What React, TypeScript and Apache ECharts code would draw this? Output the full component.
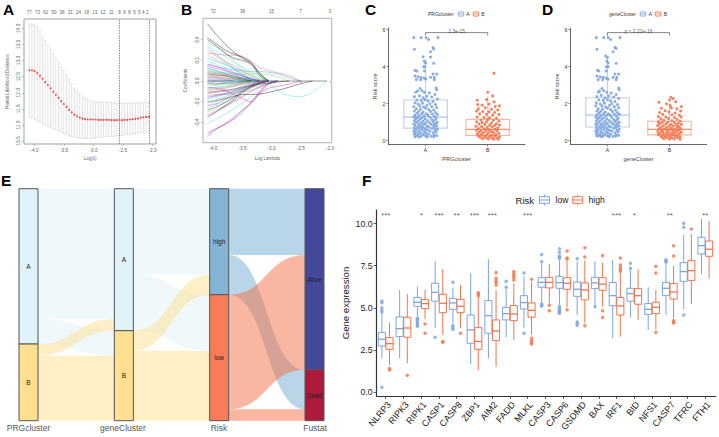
import React, { useEffect, useRef } from "react";
import * as echarts from "echarts";

const FONT = "Liberation Sans";
const BLUE = "#7BA5DE";
const ORANGE = "#F5734A";

// ---------- Panel A ----------
const aTopLabels = ["77","73","62","50","38","31","24","18","13","12","11","8","8","8","5","5","4","2"];
const aTopPos = [-4.092,-3.952,-3.813,-3.673,-3.536,-3.396,-3.257,-3.117,-2.978,-2.838,-2.699,-2.561,-2.476,-2.391,-2.306,-2.226,-2.158,-2.09];
const aLambda = [-4.09,-4.045,-4.0,-3.955,-3.91,-3.865,-3.82,-3.775,-3.73,-3.685,-3.64,-3.595,-3.55,-3.505,-3.46,-3.415,-3.37,-3.325,-3.28,-3.235,-3.19,-3.145,-3.1,-3.055,-3.01,-2.965,-2.92,-2.875,-2.83,-2.785,-2.74,-2.695,-2.65,-2.605,-2.56,-2.515,-2.47,-2.425,-2.38,-2.335,-2.29,-2.245,-2.2,-2.155,-2.11,-2.06];
const aMean = [12.70,12.70,12.67,12.61,12.53,12.44,12.33,12.24,12.14,12.03,11.94,11.84,11.74,11.65,11.56,11.47,11.39,11.32,11.27,11.23,11.20,11.18,11.17,11.17,11.17,11.17,11.16,11.16,11.16,11.16,11.16,11.15,11.15,11.15,11.15,11.15,11.16,11.16,11.17,11.18,11.19,11.20,11.23,11.24,11.25,11.25];
const aUpper = [14.13,14.13,14.10,14.03,13.92,13.76,13.62,13.47,13.35,13.22,13.07,12.95,12.81,12.71,12.56,12.43,12.29,12.15,12.08,11.98,11.90,11.85,11.80,11.76,11.74,11.72,11.72,11.71,11.71,11.70,11.70,11.69,11.69,11.68,11.68,11.68,11.67,11.67,11.68,11.68,11.68,11.69,11.69,11.70,11.70,11.70];
const aLower = [11.26,11.26,11.17,11.12,11.09,11.05,11.00,10.97,10.93,10.89,10.86,10.82,10.78,10.74,10.71,10.67,10.64,10.63,10.60,10.59,10.58,10.58,10.58,10.58,10.59,10.60,10.61,10.62,10.63,10.64,10.64,10.65,10.65,10.66,10.67,10.68,10.69,10.70,10.71,10.73,10.74,10.75,10.76,10.77,10.78,10.78];
const aVLines = [-2.561, -2.051];

// ---------- Panel B ----------
const bTopLabels: Record<string, string> = { "-4": "72", "-3.5": "38", "-3": "15", "-2.5": "7", "-2": "0" };
const bLambda = [-4.1,-3.95,-3.8,-3.65,-3.5,-3.35,-3.2,-3.05,-2.9,-2.7,-2.5,-2.3,-2.05];
const bLines: number[][] = [
  [.553,.45,.36,.28,.22,.17,.07,0],
  [-.50,-.46,-.42,-.36,-.28,-.21,-.12,-.03,0],
  [.25,.21,.17,.13,.09,.05,.02,0],
  [-.54,-.47,-.41,-.35,-.28,-.22,-.10,-.03,0],
  [-.41,-.37,-.32,-.27,-.21,-.15,-.06,-.02,0],
  [-.52,-.46,-.42,-.37,-.30,-.20,-.10,-.02,0],
  [.42,.36,.30,.26,.23,.18,.07,0],
  [.27,.26,.25,.25,.24,.19,.13,.10,.08,.05,0],
  [.37,.33,.28,.20,.12,.07,.03,0],
  [.16,.14,.12,.11,.10,.09,.09,.085,.07,.03,0],
  [.35,.29,.24,.18,.13,.09,.05,.01,0],
  [-.33,-.29,-.25,-.20,-.15,-.10,-.05,-.02,0],
  [.40,.34,.27,.22,.20,.16,.05,0],
  [-.14,-.13,-.13,-.12,-.10,-.09,-.06,-.03,0],
  [.11,.09,.08,.07,.07,.07,.07,.06,.04,0],
  [.09,.08,.07,.05,.03,.02,.01,0],
  [0,0,0,0,0,0,-.005,-.03,-.09,-.14,-.15,-.11,0],
  [-.06,-.07,-.09,-.13,-.17,-.20,-.12,-.07,-.05,-.03,0],
  [-.20,-.19,-.17,-.15,-.13,-.13,-.125,-.11,-.09,-.06,-.025,0],
  [.30,.24,.19,.15,.10,.05,.01,0],
  [-.30,-.27,-.24,-.19,-.13,-.07,-.03,0],
  [.22,.19,.16,.12,.07,.03,0],
  [-.26,-.23,-.20,-.15,-.09,-.05,-.02,0],
  [.14,.12,.10,.07,.05,.02,0],
  [-.11,-.10,-.09,-.08,-.06,-.05,-.03,-.02,-.01,0],
  [.06,.05,.05,.04,.03,.01,0],
  [-.23,-.20,-.16,-.12,-.09,-.06,-.03,0],
  [-.18,-.15,-.13,-.10,-.07,-.04,-.01,0],
  [.19,.16,.13,.09,.05,.02,0],
  [.03,.03,.02,.02,.01,0],
  [-.35,-.30,-.24,-.18,-.11,-.06,-.02,0],
  [.08,.07,.06,.05,.03,.01,0],
  [-.08,-.07,-.06,-.05,-.03,-.02,-.01,0],
  [.12,.10,.07,.05,.03,.01,0],
  [-.15,-.14,-.12,-.09,-.06,-.03,0],
  [.01,.01,.01,0],
  [-.28,-.25,-.21,-.16,-.10,-.05,-.02,0],
  [.05,.04,.03,.02,.01,0],
  [-.04,-.04,-.03,-.03,-.02,-.01,0],
  [.33,.26,.19,.12,.06,.02,0],
  [-.21,-.18,-.15,-.11,-.08,-.04,-.01,0],
  [.16,.14,.11,.08,.05,.02,0],
  [-.02,-.03,-.02,-.02,-.01,0],
  [-.12,-.11,-.10,-.08,-.05,-.03,-.01,0],
  [.10,.08,.06,.04,.02,0],
  [-.07,-.06,-.05,-.04,-.02,-.01,0],
  [.02,.02,.01,.01,0],
  [-.16,-.14,-.12,-.10,-.07,-.04,-.02,0],
  [.07,.06,.05,.03,.02,0],
  [-.09,-.08,-.07,-.05,-.03,-.02,0],
  [.04,.04,.03,.02,.01,0],
  [-.01,-.01,-.01,-.01,0],
  [.13,.10,.08,.06,.03,.01,0],
  [-.24,-.22,-.18,-.13,-.08,-.04,-.01,0],
  [0,0,0,0,0,0,0,0,0,0,0,0,0],
];
const bColors = ["#000000", "#DF536B", "#61D04F", "#2297E6", "#28E2E5", "#CD0BBC"];

// ---------- Panels C, D ----------
const cPointsA: number[][] = [[-.19,5.57],[-.07,5.57],[.01,5.57],[.05,5.47],[.2,5.57],[-.18,4.94],[.12,5.03],[.13,4.95],[.08,4.81],[-.04,4.54],[.08,4.52],[-.02,4.3],[0,4.2],[.13,4.18],[-.03,4.0],[-.01,4.0],[-.17,3.8],[-.14,3.77],[-.02,3.77],[.12,3.6],[.18,3.6],[-.17,3.5],[-.12,3.45],[-.07,3.42],[-.02,3.38],[.08,3.42],[.14,3.42],[-.15,3.3],[-.08,3.3],[0,3.33],[.14,3.3],[.17,2.85],[.18,2.75],[-.16,2.62],[-.13,2.68],[-.09,2.82],[-.06,2.7],[-.02,2.62],[.06,2.58],[.15,2.5],[-.18,2.38],[-.1,2.42],[-.04,2.32],[.02,2.4],[.1,2.36],[.19,2.25],[-.14,2.2],[-.07,2.18],[-.01,2.22],[.04,2.15],[.12,2.12],[-.17,2.05],[-.12,1.98],[-.05,2.03],[.07,2.0],[.16,1.95],[-.19,1.85],[-.09,1.88],[-.03,1.82],[.02,1.9],[.1,1.84],[.18,1.78],[-.15,1.72],[-.08,1.7],[0,1.75],[.05,1.68],[.13,1.66],[-.18,1.6],[-.11,1.58],[-.04,1.55],[.08,1.58],[.16,1.52],[-.14,1.48],[-.06,1.45],[.01,1.46],[.11,1.44],[.19,1.42],[-.17,1.38],[-.1,1.36],[-.02,1.34],[.04,1.38],[.14,1.32],[-.19,1.28],[-.13,1.26],[-.06,1.24],[.07,1.27],[.17,1.22],[-.16,1.18],[-.09,1.16],[-.01,1.17],[.1,1.14],[.15,1.12],[-.18,1.08],[-.12,1.06],[-.04,1.05],[.03,1.09],[.12,1.03],[.19,1.0],[-.15,.98],[-.07,.96],[0,.95],[.06,.98],[.16,.93],[-.19,.9],[-.11,.88],[-.03,.87],[.09,.89],[.13,.84],[-.17,.82],[-.08,.8],[.02,.79],[.18,.8],[-.13,.74],[-.05,.72],[.05,.75],[.14,.72],[-.18,.68],[-.1,.66],[-.01,.65],[.1,.67],[.19,.62],[-.15,.6],[-.06,.58],[.03,.57],[.15,.56],[-.19,.52],[-.11,.5],[-.02,.48],[.07,.52],[.17,.47],[-.16,.44],[-.08,.42],[.01,.4],[.12,.43],[-.18,.36],[-.12,.34],[-.04,.33],[.05,.35],[.14,.32],[-.14,.27],[-.07,.25],[-.17,.22],[.0,.26],[.09,.24],[.18,.27],[-.1,.2],[.03,.2],[.13,.22]];
const cPointsB: number[][] = [[.1,3.65],[0,2.62],[.08,2.42],[-.17,2.18],[-.02,2.23],[.1,2.1],[-.16,1.95],[-.09,1.92],[.02,1.98],[.12,1.85],[.19,1.88],[-.15,1.72],[-.04,1.78],[.06,1.7],[.16,1.66],[-.18,1.6],[-.08,1.58],[.02,1.56],[.11,1.52],[-.13,1.45],[-.02,1.42],[.18,1.42],[.08,1.38],[-.17,1.28],[-.06,1.26],[.03,1.24],[.14,1.22],[-.11,1.12],[0,1.15],[.09,1.1],[.18,1.05],[-.18,1.02],[-.09,.98],[-.02,1.02],[.06,.96],[.14,.92],[-.14,.9],[-.05,.88],[.03,.84],[.11,.82],[.19,.85],[-.19,.78],[-.1,.76],[-.01,.72],[.07,.74],[.16,.7],[-.15,.66],[-.06,.64],[.02,.6],[.12,.62],[-.18,.56],[-.11,.54],[-.03,.52],[.05,.5],[.15,.54],[-.14,.46],[-.07,.44],[.01,.42],[.09,.45],[.18,.4],[-.17,.36],[-.1,.34],[-.02,.32],[.06,.3],[.13,.34],[-.15,.26],[-.06,.24],[.03,.22],[.11,.25],[.19,.2],[-.12,.18],[-.03,.16],[.07,.14],[.15,.16],[-.08,.1],[.01,.09],[.1,.08],[.17,.08]];
const dPointsA: number[][] = [[-.18,5.57],[-.06,5.57],[.01,5.57],[.05,5.47],[.2,5.57],[-.17,4.94],[.12,5.05],[.14,4.98],[.09,4.81],[-.03,4.58],[.0,4.5],[-.01,4.3],[.01,4.2],[.14,4.18],[-.02,4.0],[.01,4.0],[-.16,3.8],[-.14,3.77],[-.02,3.77],[.12,3.6],[.18,3.6],[-.17,3.5],[-.12,3.45],[-.07,3.42],[-.02,3.38],[.09,3.42],[.15,3.42],[-.15,3.3],[-.08,3.3],[.01,3.33],[.14,3.3],[.18,2.85],[.19,2.75],[-.15,2.62],[-.13,2.68],[-.09,2.82],[-.06,2.7],[-.01,2.62],[.06,2.58],[.14,2.5],[-.17,2.38],[-.1,2.45],[-.04,2.32],[.02,2.42],[.1,2.36],[.18,2.28],[-.14,2.2],[-.07,2.18],[0,2.22],[.05,2.15],[.12,2.12],[-.18,2.05],[-.12,1.98],[-.05,2.03],[.07,2.0],[.16,1.95],[-.19,1.88],[-.09,1.88],[-.03,1.82],[.03,1.9],[.11,1.84],[.18,1.78],[-.15,1.72],[-.08,1.7],[0,1.75],[.05,1.68],[.13,1.66],[-.17,1.6],[-.11,1.58],[-.04,1.55],[.08,1.58],[.16,1.52],[-.14,1.48],[-.06,1.45],[.01,1.46],[.11,1.44],[.19,1.42],[-.17,1.38],[-.1,1.36],[-.02,1.34],[.04,1.38],[.14,1.32],[-.19,1.28],[-.13,1.26],[-.06,1.24],[.07,1.27],[.17,1.22],[-.16,1.18],[-.09,1.16],[-.01,1.17],[.1,1.14],[.15,1.12],[-.18,1.08],[-.12,1.06],[-.04,1.05],[.03,1.09],[.12,1.03],[.19,1.0],[-.15,.98],[-.07,.96],[0,.95],[.06,.98],[.16,.93],[-.19,.9],[-.11,.88],[-.03,.87],[.09,.89],[.13,.84],[-.17,.82],[-.08,.8],[.02,.79],[.18,.8],[-.13,.74],[-.05,.72],[.05,.75],[.14,.72],[-.18,.68],[-.1,.66],[-.01,.65],[.1,.67],[.19,.62],[-.15,.6],[-.06,.58],[.03,.57],[.15,.56],[-.19,.52],[-.11,.5],[-.02,.48],[.07,.52],[.17,.47],[-.16,.44],[-.08,.42],[.01,.4],[.12,.43],[-.18,.36],[-.12,.34],[-.04,.33],[.05,.35],[.14,.32],[-.14,.27],[-.07,.25],[-.17,.24],[.0,.26],[.09,.24],[.18,.28],[-.1,.22],[.03,.22],[.13,.24]];
const dPointsB: number[][] = [[.02,2.35],[.06,2.28],[.0,2.2],[-.17,2.08],[.1,2.1],[-.05,2.0],[.01,1.9],[.19,1.85],[-.13,1.75],[.03,1.78],[.12,1.72],[-.07,1.62],[.18,1.6],[-.16,1.52],[-.01,1.55],[.09,1.5],[-.11,1.42],[.04,1.4],[.16,1.38],[-.18,1.3],[-.06,1.28],[.08,1.25],[.19,1.28],[-.14,1.18],[-.02,1.2],[.12,1.15],[-.09,1.1],[.04,1.08],[.17,1.06],[-.18,1.02],[-.12,.98],[-.03,1.0],[.08,.98],[.14,.94],[-.16,.92],[-.06,.9],[.02,.88],[.11,.86],[.19,.88],[-.19,.82],[-.1,.8],[-.01,.78],[.06,.8],[.15,.76],[-.14,.72],[-.05,.7],[.03,.68],[.12,.71],[.18,.66],[-.17,.64],[-.09,.62],[0,.6],[.08,.62],[.16,.58],[-.13,.56],[-.04,.54],[.05,.52],[.13,.55],[-.19,.5],[-.11,.48],[-.02,.46],[.1,.47],[.19,.45],[-.15,.42],[-.06,.4],[.02,.38],[.07,.41],[.15,.38],[-.18,.34],[-.1,.33],[-.03,.3],[.05,.32],[.12,.29],[-.14,.26],[-.07,.24],[.01,.22],[.09,.25],[.17,.22],[-.12,.18],[-.04,.16],[.04,.15],[.13,.17],[-.09,.11],[0,.09],[.08,.1],[.17,.08]];
const cBoxA = [0.2, 0.68, 1.28, 2.2, 4.4];
const cBoxB = [0.05, 0.29, 0.61, 1.15, 2.4];
const dBoxA = [0.2, 0.74, 1.39, 2.32, 4.54];
const dBoxB = [0.05, 0.31, 0.61, 1.05, 2.05];

// ---------- Panel E ----------
const eColumns = ["PRGcluster", "geneCluster", "Risk", "Fustat"];
const eNodes = [
  ["PRG A", "A", "#E0F3F8"], ["PRG B", "B", "#FEE090"],
  ["Gene A", "A", "#E0F3F8"], ["Gene B", "B", "#FEE090"],
  ["Risk high", "high", "#84B3D6"], ["Risk low", "low", "#F87D56"],
  ["Fustat Alive", "Alive", "#44489A"], ["Fustat Dead", "Dead", "#AE1A3B"],
];
const eLinks: [string, string, number, string][] = [
  ["PRG A", "Gene A", 391, "#E0F3F8"], ["PRG A", "Gene B", 75, "#E0F3F8"],
  ["PRG B", "Gene A", 35, "#FEE090"], ["PRG B", "Gene B", 195, "#FEE090"],
  ["Gene A", "Risk high", 258, "#E0F3F8"], ["Gene A", "Risk low", 168, "#E0F3F8"],
  ["Gene B", "Risk high", 60, "#FEE090"], ["Gene B", "Risk low", 210, "#FEE090"],
  ["Risk high", "Fustat Alive", 199, "#74ADD1"], ["Risk high", "Fustat Dead", 119, "#74ADD1"],
  ["Risk low", "Fustat Alive", 344, "#F46D43"], ["Risk low", "Fustat Dead", 34, "#F46D43"],
];

// ---------- Panel F ----------
const fGenes = ["NLRP3","RIPK3","RIPK1","CASP1","CASP8","ZBP1","AIM2","FADD","MLKL","CASP3","CASP6","GSDMD","BAX","IRF1","BID","NFS1","CASP7","TFRC","FTH1"];
const fStars = ["***","","*","***","**","***","***","","***","","","","","***","*","","**","","**"];
// min, q1, median, q3, max
const fLow = [[2.0,2.73,3.13,3.54,4.67],[2.0,3.29,3.76,4.46,6.06],[4.48,5.09,5.33,5.62,6.26],[3.8,5.39,5.92,6.46,7.78],[4.08,4.91,5.29,5.56,6.2],[1.64,2.89,3.68,4.57,7.05],[2.0,3.49,4.53,5.43,7.88],[3.25,4.28,4.65,5.03,6.1],[3.82,4.93,5.31,5.72,6.86],[5.31,6.22,6.51,6.79,7.58],[5.17,6.16,6.5,6.87,7.84],[4.57,5.68,6.1,6.53,7.74],[5.17,6.14,6.48,6.81,7.74],[3.19,5.13,5.72,6.5,7.84],[4.42,5.39,5.84,6.16,7.25],[3.68,4.61,4.91,5.25,6.22],[4.57,5.74,6.16,6.51,7.64],[4.91,6.57,7.15,7.68,9.33],[6.99,8.2,8.69,9.19,10.3]];
const fHigh = [[1.6,2.53,2.87,3.23,4.12],[1.7,3.25,3.8,4.44,5.82],[4.34,4.95,5.25,5.5,6.06],[3.39,4.71,5.27,5.8,7.3],[3.82,4.71,5.09,5.5,6.36],[1.3,2.53,3.0,3.82,5.6],[1.5,3.05,3.62,4.28,6.05],[3.09,4.24,4.63,5.13,6.45],[3.39,4.44,4.85,5.29,6.55],[5.27,6.18,6.51,6.81,7.6],[5.03,6.1,6.46,6.79,7.8],[4.12,5.47,6.06,6.48,7.8],[5.07,6.04,6.4,6.79,7.68],[3.29,4.57,5.11,5.62,7.15],[4.28,5.21,5.72,6.14,7.29],[3.72,4.65,5.03,5.33,6.06],[4.38,5.52,5.94,6.44,7.49],[5.23,6.63,7.21,7.8,9.39],[6.73,8.06,8.48,8.97,10.16]];
const fLowOut = [[5.4,5.3,5.0,4.85,4.75,0.28],[],[4.38,4.3,4.2,4.1,4.0,3.9],[3.25],[6.52,3.94,3.85,3.72],[],[],[6.57,6.22],[7.07,3.49],[8.16,7.74,5.23,5.17,5.1],[8.51,8.3,8.08,8.0,7.94,5.07,4.95,4.87,4.8,4.75,4.67],[7.92,4.16,4.08,3.96],[5.07],[],[7.64,7.35],[],[7.86,7.8,7.72],[10.02,9.78,4.57],[]];
const fHighOut = [[1.4,1.3],[0.99],[4.04,3.49],[3.0,2.95],[3.49],[5.9,5.82,5.7],[7.09,6.75,6.6,6.5,6.36],[7.15,7.02,6.9,6.8,6.65],[6.69,3.19,3.05,2.93,2.85],[5.15,4.83],[8.38,7.96,7.9,4.89],[8.57,8.02,3.94],[8.1,4.83,4.42],[7.96,7.54,7.39,7.29,7.19],[],[7.47,7.07,3.54],[8.69,8.08,4.24,4.16,4.1],[9.68],[]];

const fmt1 = (v: number) => v.toFixed(1);

function makeBoxRender(color: string, half: number, lw: number, boxOpacity: number, medW: number, medOpacity: number) {
  return (_p: any, api: any) => {
    const x = api.value(0);
    const hw = api.size([1, 0])[0] * half;
    const [cx, yMin] = api.coord([x, api.value(1)]);
    const yQ1 = api.coord([x, api.value(2)])[1];
    const yMed = api.coord([x, api.value(3)])[1];
    const yQ3 = api.coord([x, api.value(4)])[1];
    const yMax = api.coord([x, api.value(5)])[1];
    const st = { stroke: color, lineWidth: lw, opacity: boxOpacity, fill: "none" };
    return {
      type: "group",
      children: [
        { type: "line", shape: { x1: cx, y1: yMin, x2: cx, y2: yQ1 }, style: st },
        { type: "line", shape: { x1: cx, y1: yQ3, x2: cx, y2: yMax }, style: st },
        { type: "rect", shape: { x: cx - hw, y: yQ3, width: hw * 2, height: yQ1 - yQ3 }, style: st },
        { type: "line", shape: { x1: cx - hw, y1: yMed, x2: cx + hw, y2: yMed }, style: { stroke: color, lineWidth: medW, opacity: medOpacity } },
      ],
    };
  };
}

function errorBarRender(_p: any, api: any) {
  const x = api.value(0);
  const [cx, yU] = api.coord([x, api.value(2)]);
  const yL = api.coord([x, api.value(3)])[1];
  const st = { stroke: "#D6D6D6", lineWidth: 0.7 };
  return {
    type: "group",
    children: [
      { type: "line", shape: { x1: cx, y1: yU, x2: cx, y2: yL }, style: st },
      { type: "line", shape: { x1: cx - 1.2, y1: yU, x2: cx + 1.2, y2: yU }, style: st },
      { type: "line", shape: { x1: cx - 1.2, y1: yL, x2: cx + 1.2, y2: yL }, style: st },
    ],
  };
}

function txt(text: string, x: number, y: number, fontSize: number, fill = "#444", align = "center", fontWeight: any = "normal") {
  return { type: "text", silent: true, style: { text, x, y, fontSize, fontFamily: FONT, fill, align, verticalAlign: "middle", fontWeight } };
}

function boxKey(cx: number, cy: number, w: number, h: number, whisk: number, color: string, lw = 1) {
  return {
    type: "group",
    children: [
      { type: "line", shape: { x1: cx, y1: cy - whisk, x2: cx, y2: cy + whisk }, style: { stroke: color, lineWidth: lw } },
      { type: "rect", shape: { x: cx - w / 2, y: cy - h / 2, width: w, height: h }, style: { stroke: color, lineWidth: lw, fill: "#fff" } },
      { type: "line", shape: { x1: cx - w / 2, y1: cy, x2: cx + w / 2, y2: cy }, style: { stroke: color, lineWidth: lw } },
    ],
  };
}

function rXAxis(gridIndex: number, min: number, max: number, ticks: number[], name: string, nameGap: number) {
  return {
    type: "value", gridIndex, min, max, name, nameLocation: "middle", nameGap,
    nameTextStyle: { fontSize: 4.5, color: "#666", fontFamily: FONT },
    axisLine: { show: false }, splitLine: { show: false },
    axisTick: { show: true, length: 2, customValues: ticks, lineStyle: { color: "#999", width: 0.6 } },
    axisLabel: { fontSize: 4.8, color: "#666", margin: 3.5, fontFamily: FONT, customValues: ticks, formatter: fmt1 },
  };
}
function rTopAxis(gridIndex: number, min: number, max: number, ticks: number[], fmt: (v: number) => string) {
  return {
    type: "value", gridIndex, min, max, position: "top",
    axisLine: { show: false }, splitLine: { show: false },
    axisTick: { show: false },
    axisLabel: { fontSize: 4.5, color: "#666", margin: 4, fontFamily: FONT, customValues: ticks, formatter: fmt },
  };
}
function rYAxis(gridIndex: number, min: number, max: number, ticks: number[], name: string, nameGap: number) {
  return {
    type: "value", gridIndex, min, max, name, nameLocation: "middle", nameGap,
    nameTextStyle: { fontSize: 4.5, color: "#666", fontFamily: FONT },
    axisLine: { show: false }, splitLine: { show: false },
    axisTick: { show: true, length: 2, customValues: ticks, lineStyle: { color: "#999", width: 0.6 } },
    axisLabel: { fontSize: 4.8, color: "#666", margin: 3, rotate: 90, fontFamily: FONT, customValues: ticks, formatter: fmt1 },
  };
}
function ggX(gridIndex: number, min: number, max: number, ticks: number[], labels: string[], name: string) {
  return {
    type: "value", gridIndex, min, max, name, nameLocation: "middle", nameGap: 11,
    nameTextStyle: { fontSize: 5.6, color: "#444", fontFamily: FONT },
    axisLine: { show: true, onZero: false, lineStyle: { color: "#666", width: 1 } }, splitLine: { show: false },
    axisTick: { show: true, length: 2, customValues: ticks, lineStyle: { color: "#666", width: 0.7 } },
    axisLabel: { fontSize: 5.2, color: "#333", margin: 3, fontFamily: FONT, customValues: ticks, formatter: (v: number) => labels[v] },
  };
}
function ggY(gridIndex: number, min: number, max: number, ticks: number[], name: string) {
  return {
    type: "value", gridIndex, min, max, name, nameLocation: "middle", nameGap: 10,
    nameTextStyle: { fontSize: 5.6, color: "#444", fontFamily: FONT },
    axisLine: { show: true, onZero: false, lineStyle: { color: "#666", width: 1 } }, splitLine: { show: false },
    axisTick: { show: true, length: 2, customValues: ticks, lineStyle: { color: "#666", width: 0.7 } },
    axisLabel: { fontSize: 5.2, color: "#333", margin: 3, fontFamily: FONT, customValues: ticks, formatter: (v: number) => String(v) },
  };
}

function clusterSeries(idx: number, ptsA: number[][], ptsB: number[][], boxA: number[], boxB: number[], pText: string): any[] {
  const base = { xAxisIndex: idx, yAxisIndex: idx };
  return [
    { ...base, type: "custom", renderItem: makeBoxRender(BLUE, 0.35, 1.2, 0.5, 1.2, 0.8), encode: { x: 0, y: [1, 2, 3, 4, 5] }, data: [[0, ...boxA]], z: 2 },
    { ...base, type: "custom", renderItem: makeBoxRender(ORANGE, 0.35, 1.2, 0.5, 1.2, 0.8), encode: { x: 0, y: [1, 2, 3, 4, 5] }, data: [[1, ...boxB]], z: 2 },
    { ...base, type: "scatter", data: ptsA.map(([j, v]) => [j, v]), symbolSize: 3, itemStyle: { color: BLUE, opacity: 0.9 }, z: 3 },
    { ...base, type: "scatter", data: ptsB.map(([j, v]) => [1 + j, v]), symbolSize: 3, itemStyle: { color: ORANGE, opacity: 0.9 }, z: 3 },
    { ...base, type: "line", data: [[0, 5.68], [0, 5.84], [1, 5.84], [1, 5.68]], symbol: "none", lineStyle: { color: "#666", width: 0.8 }, z: 4 },
    {
      ...base, type: "scatter", symbolSize: 0, data: [[0.5, 5.92, pText]], z: 4,
      label: { show: true, position: "inside", formatter: (p: any) => p.value[2], fontSize: 5, color: "#333", fontFamily: FONT, offset: [0, -0.5] },
    },
  ];
}

export default function App() {
  const ref = useRef<HTMLDivElement>(null);
  useEffect(() => {
    const chart = echarts.init(ref.current!, undefined, { renderer: "svg" });

    const aTopMap = new Map(aTopPos.map((v, i) => [v, aTopLabels[i]]));
    const fOut = (list: number[][], off: number) =>
      list.flatMap((vals, i) => vals.map((v) => [i + off, v]));

    const grids = [
      { left: 24, top: 19, width: 132, height: 125, show: true, borderColor: "#A0A0A0", borderWidth: 1, backgroundColor: "transparent" },
      { left: 203, top: 18.3, width: 128.7, height: 124.4, show: true, borderColor: "#B0B0B0", borderWidth: 1, backgroundColor: "transparent" },
      { left: 388.3, top: 28, width: 136.7, height: 116.7 },
      { left: 570.3, top: 28, width: 136.4, height: 116.7 },
      { left: 376.7, top: 210, width: 339, height: 186 },
    ];
    const aXt = [-4, -3.5, -3, -2.5, -2];
    const xAxes: any[] = [
      ggX(2, -0.6, 1.6, [0, 1], ["A", "B"], "PRGcluster"),
      ggX(3, -0.6, 1.6, [0, 1], ["A", "B"], "geneCluster"),
      rXAxis(0, -4.18, -1.94, aXt, "Log(λ)", 12),
      rTopAxis(0, -4.18, -1.94, aTopPos, (v) => aTopMap.get(v) ?? ""),
      rXAxis(1, -4.176, -1.97, aXt, "Log Lambda", 13),
      rTopAxis(1, -4.176, -1.97, aXt, (v) => bTopLabels[String(v)]),
      {
        type: "value", gridIndex: 4, min: -0.507, max: 18.586,
        axisLine: { show: true, onZero: false, lineStyle: { color: "#333", width: 1.2 } }, splitLine: { show: false },
        axisTick: { show: true, length: 3, customValues: fGenes.map((_, i) => i), lineStyle: { color: "#333", width: 0.8 } },
        axisLabel: { fontSize: 9, color: "#222", margin: 4, rotate: 50, align: "right", verticalAlign: "top", fontFamily: FONT, customValues: fGenes.map((_, i) => i), formatter: (v: number) => fGenes[v] },
      },
    ];
    const yAxes: any[] = [
      ggY(2, -0.216, 6.09, [0, 2, 4, 6], "Risk score"),
      ggY(3, -0.216, 6.09, [0, 2, 4, 6], "Risk score"),
      rYAxis(0, 10.41, 14.29, [10.5, 11, 11.5, 12, 12.5, 13, 13.5, 14], "Partial Likelihood Deviance", 14.5),
      rYAxis(1, -0.596, 0.606, [-0.4, -0.2, 0, 0.2, 0.4], "Coefficients", 15),
      {
        type: "value", gridIndex: 4, min: -0.24, max: 10.81, name: "Gene expression", nameLocation: "middle", nameGap: 26,
        nameTextStyle: { fontSize: 9.6, color: "#222", fontFamily: FONT },
        axisLine: { show: true, onZero: false, lineStyle: { color: "#333", width: 1.2 } }, splitLine: { show: false },
        axisTick: { show: true, length: 3, customValues: [0, 2.5, 5, 7.5, 10], lineStyle: { color: "#333", width: 0.8 } },
        axisLabel: { fontSize: 8.8, color: "#222", margin: 4, fontFamily: FONT, customValues: [0, 2.5, 5, 7.5, 10], formatter: fmt1 },
      },
    ];

    const series: any[] = [
      {
        type: "custom", xAxisIndex: 2, yAxisIndex: 2, renderItem: errorBarRender, encode: { x: 0, y: [1, 2, 3] },
        data: aLambda.map((l, i) => [l, aMean[i], aUpper[i], aLower[i]]), z: 2,
      },
      {
        type: "scatter", xAxisIndex: 2, yAxisIndex: 2, data: aLambda.map((l, i) => [l, aMean[i]]),
        symbolSize: 1.9, itemStyle: { color: "#F01818" }, z: 3,
        markLine: {
          silent: true, symbol: "none", label: { show: false },
          lineStyle: { color: "#777", type: [1.5, 1], width: 0.8 },
          data: aVLines.map((x) => ({ xAxis: x })),
        },
      },
      ...bLines.map((line, i) => ({
        type: "line", xAxisIndex: 4, yAxisIndex: 3, data: line.map((v, k) => [bLambda[k], v]),
        symbol: "none", smooth: 0.35, lineStyle: { color: bColors[i % 6], width: 0.55, opacity: 0.75 }, z: 2,
      })),
      ...clusterSeries(0, cPointsA, cPointsB, cBoxA, cBoxB, "2.3e-15"),
      ...clusterSeries(1, dPointsA, dPointsB, dBoxA, dBoxB, "p < 2.22e-16"),
      {
        type: "sankey", left: 19, right: 395, top: 188.7, bottom: 16.3, nodeWidth: 19, nodeGap: 0, layoutIterations: 0,
        silent: true, draggable: false, emphasis: { disabled: true },
        data: eNodes.map(([name, label, color]) => ({
          name, itemStyle: { color, borderColor: "#555", borderWidth: 1 },
          label: { formatter: label },
        })),
        links: eLinks.map(([source, target, value, color]) => ({
          source, target, value, lineStyle: { color, opacity: 0.5, curveness: 0.5 },
        })),
        label: { show: true, position: "inside", fontSize: 6.5, color: "#222", fontFamily: FONT },
      },
      { type: "custom", xAxisIndex: 6, yAxisIndex: 4, renderItem: makeBoxRender(BLUE, 0.2, 1, 1, 1.3, 1), encode: { x: 0, y: [1, 2, 3, 4, 5] }, data: fLow.map((s, i) => [i - 0.215, ...s]), z: 3 },
      { type: "custom", xAxisIndex: 6, yAxisIndex: 4, renderItem: makeBoxRender(ORANGE, 0.2, 1, 1, 1.3, 1), encode: { x: 0, y: [1, 2, 3, 4, 5] }, data: fHigh.map((s, i) => [i + 0.215, ...s]), z: 3 },
      { type: "scatter", xAxisIndex: 6, yAxisIndex: 4, data: fOut(fLowOut, -0.215), symbolSize: 3.5, itemStyle: { color: BLUE }, z: 3 },
      { type: "scatter", xAxisIndex: 6, yAxisIndex: 4, data: fOut(fHighOut, 0.215), symbolSize: 3.5, itemStyle: { color: ORANGE }, z: 3 },
      {
        type: "scatter", xAxisIndex: 6, yAxisIndex: 4, symbolSize: 0, z: 4,
        data: fStars.map((s, i) => [i, 10.5, s]).filter((d) => d[2] !== ""),
        label: { show: true, position: "inside", formatter: (p: any) => p.value[2], fontSize: 8, color: "#333", fontFamily: FONT },
      },
    ];

    const graphic: any[] = [
      txt("A", 3, 9, 15.5, "#000", "left", "bold"),
      txt("B", 181, 9, 15.5, "#000", "left", "bold"),
      txt("C", 365, 9, 15.5, "#000", "left", "bold"),
      txt("D", 542, 9, 15.5, "#000", "left", "bold"),
      txt("E", 1, 180.5, 15.5, "#000", "left", "bold"),
      txt("F", 362, 180.5, 15.5, "#000", "left", "bold"),
      txt("PRGcluster", 428, 14, 5, "#333", "left"),
      boxKey(461, 14, 5.5, 4, 2.8, BLUE, 0.8),
      txt("A", 468, 14, 5, "#333", "center"),
      boxKey(476, 14, 5.5, 4, 2.8, ORANGE, 0.8),
      txt("B", 483, 14, 5, "#333", "center"),
      txt("geneCluster", 609, 14, 5, "#333", "left"),
      boxKey(643, 14, 5.5, 4, 2.8, BLUE, 0.8),
      txt("A", 650.5, 14, 5, "#333", "center"),
      boxKey(658, 14, 5.5, 4, 2.8, ORANGE, 0.8),
      txt("B", 665.5, 14, 5, "#333", "center"),
      txt(eColumns[0], 28.5, 428, 8.5, "#555"),
      txt(eColumns[1], 123, 428, 8.5, "#555"),
      txt(eColumns[2], 219, 428, 8.5, "#555"),
      txt(eColumns[3], 315, 428, 8.5, "#555"),
      txt("Risk", 515.5, 200, 9.6, "#222", "left"),
      boxKey(544.5, 200, 10, 6.6, 5.5, BLUE, 1),
      txt("low", 555.5, 200, 8.6, "#222", "left"),
      boxKey(577.7, 200, 10, 6.6, 5.5, ORANGE, 1),
      txt("high", 588.5, 200, 8.6, "#222", "left"),
    ];

    chart.setOption({
      animation: false,
      backgroundColor: "#fff",
      textStyle: { fontFamily: FONT },
      grid: grids,
      xAxis: xAxes,
      yAxis: yAxes,
      series,
      graphic,
    });
    return () => chart.dispose();
  }, []);
  return <div ref={ref} style={{ position: "absolute", left: 0, top: 0, width: 719, height: 437 }} />;
}
